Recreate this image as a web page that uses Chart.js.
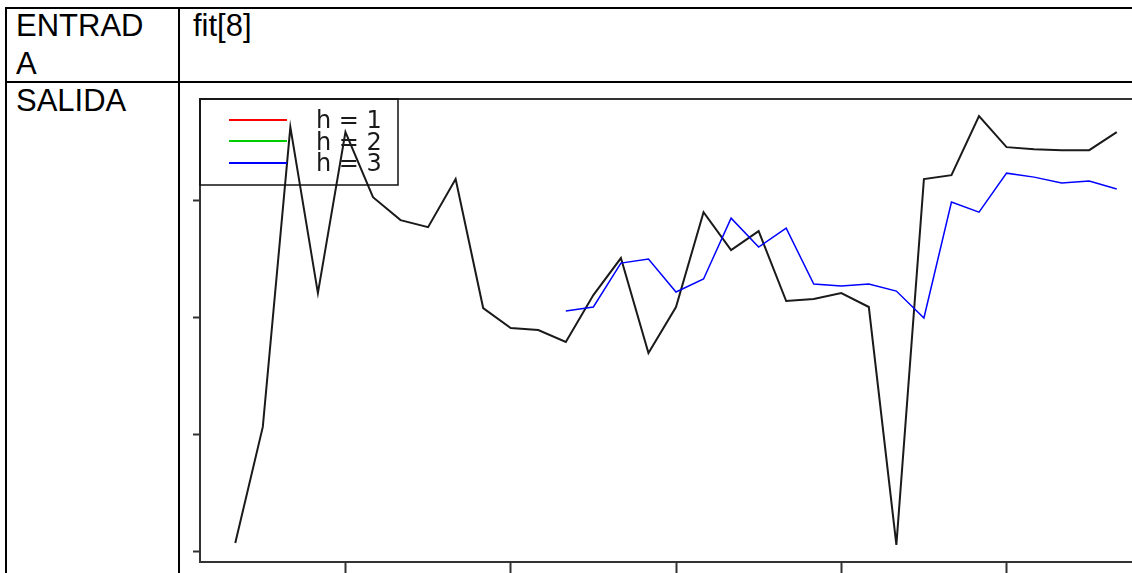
<!DOCTYPE html>
<html>
<head>
<meta charset="utf-8">
<script src="https://cdn.jsdelivr.net/npm/chart.js@4"></script>
<style>
  html, body { margin: 0; padding: 0; background: #fff; overflow: hidden; width: 1132px; height: 573px; }
  .rule { position: absolute; background: #000; }
  .cell { position: absolute; font-family: "Liberation Sans", Arial, sans-serif; font-size: 31px; line-height: 38px; color: #000; }
  #fitChart { position: absolute; left: 193px; top: 98px; }
</style>
</head>
<body>
<div class="rule" style="left:5px;top:7px;width:1127px;height:2px"></div>
<div class="rule" style="left:5px;top:7px;width:2px;height:566px"></div>
<div class="rule" style="left:178px;top:7px;width:2px;height:566px"></div>
<div class="rule" style="left:5px;top:81px;width:1127px;height:2px"></div>
<div class="cell" style="left:16px;top:7px;width:140px;word-break:break-all">ENTRADA</div>
<div class="cell" style="left:193px;top:7px">fit[8]</div>
<div class="cell" style="left:16px;top:82px">SALIDA</div>
<canvas id="fitChart" width="959" height="476"></canvas>
<script>
// observed series (black)
const obsIndex = [0, 1, 2, 3, 4, 5, 6, 7, 8, 9, 10, 11, 12, 13, 14, 15, 16, 17, 18, 19, 20, 21, 22, 23, 24, 25, 26, 27, 28, 29, 30, 31, 32];
const obsValues = [0.74, 10.64, 36.24, 22.07, 35.81, 30.26, 28.30, 27.70, 31.80, 20.79, 19.09, 18.92, 17.89, 21.90, 25.06, 16.95, 20.88, 28.98, 25.74, 27.36, 21.39, 21.56, 22.07, 20.88, 0.57, 31.80, 32.14, 37.18, 34.53, 34.36, 34.27, 34.27, 35.81];
// fitted values (blue, h = 3 drawn on top)
const fitIndex = [12, 13, 14, 15, 16, 17, 18, 19, 20, 21, 22, 23, 24, 25, 26, 27, 28, 29, 30, 31, 32];
const fitValues = [20.54, 20.88, 24.63, 24.97, 22.16, 23.27, 28.47, 26.00, 27.62, 22.84, 22.67, 22.84, 22.24, 19.94, 29.84, 28.98, 32.31, 31.97, 31.46, 31.63, 30.95];
const legendLabels = ["h = 1", "h = 2", "h = 3"];
const legendColors = ["#ff0000", "#00cd00", "#0000ff"];
const xTicks = [4, 10, 16, 22, 28];
const yTicks = [0, 10, 20, 30];

const toPoints = (xs, ys) => xs.map((x, i) => ({ x: x, y: ys[i] }));

// R style box + legend in the top left corner
const rBox = {
  id: "rBox",
  afterDraw(chart) {
    const { ctx, chartArea: a } = chart;
    ctx.save();
    ctx.strokeStyle = "#333";
    ctx.lineWidth = 2;
    ctx.strokeRect(a.left, a.top, a.right - a.left, a.bottom - a.top);
    ctx.lineWidth = 1.5;
    ctx.strokeStyle = "#111";
    ctx.strokeRect(a.left, a.top, 198, 86);
    const lineY = [21, 42, 64];
    const textY = [29, 50.5, 72];
    legendLabels.forEach((t, i) => {
      ctx.strokeStyle = legendColors[i];
      ctx.lineWidth = 2;
      ctx.beginPath();
      ctx.moveTo(a.left + 29, a.top + lineY[i]);
      ctx.lineTo(a.left + 87, a.top + lineY[i]);
      ctx.stroke();
      ctx.fillStyle = "#1a1a1a";
      ctx.font = "24px 'DejaVu Sans'";
      ctx.textBaseline = "alphabetic";
      ctx.fillText(t, a.left + 116, a.top + textY[i]);
    });
    ctx.restore();
  }
};

const ctx = document.getElementById("fitChart").getContext("2d");
new Chart(ctx, {
  type: "line",
  data: {
    datasets: [
      {
        label: "h = 3",
        data: toPoints(fitIndex, fitValues),
        borderColor: "#0000ff",
        borderWidth: 1.5,
        pointRadius: 0,
        tension: 0
      },
      {
        label: "observado",
        data: toPoints(obsIndex, obsValues),
        borderColor: "#1a1a1a",
        borderWidth: 2,
        pointRadius: 0,
        tension: 0
      }
    ]
  },
  options: {
    responsive: false,
    animation: false,
    layout: { padding: { top: 1, left: 0, right: 0, bottom: 0 } },
    plugins: { legend: { display: false }, tooltip: { enabled: false } },
    scales: {
      x: {
        type: "linear",
        min: -1.28,
        max: 33.28,
        afterBuildTicks: s => { s.ticks = xTicks.map(v => ({ value: v })); },
        ticks: { display: false },
        grid: { drawOnChartArea: false, tickLength: 12, tickWidth: 2, tickColor: "#333" },
        border: { display: true, color: "#333", width: 2 }
      },
      y: {
        min: -0.89,
        max: 38.64,
        afterBuildTicks: s => { s.ticks = yTicks.map(v => ({ value: v })); },
        ticks: { display: false },
        grid: { drawOnChartArea: false, tickLength: 7, tickWidth: 2, tickColor: "#333" },
        border: { display: true, color: "#333", width: 2 }
      }
    }
  },
  plugins: [rBox]
});
</script>
</body>
</html>
